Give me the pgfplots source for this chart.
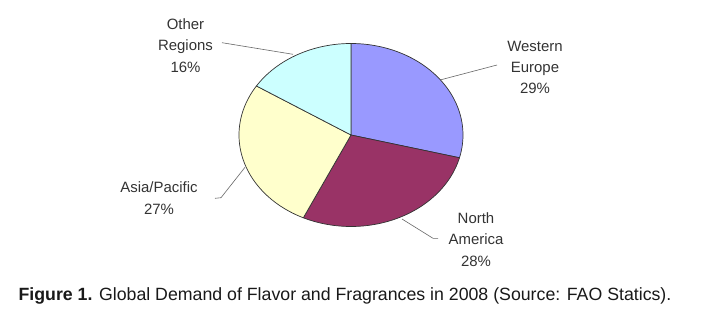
\documentclass[border=0pt]{standalone}
\usepackage{pgfplots}
\pgfplotsset{compat=1.18}
\usepackage{fontspec}
\setmainfont{Liberation Sans}
\definecolor{cWE}{HTML}{9999FF}
\definecolor{cNA}{HTML}{993366}
\definecolor{cAP}{HTML}{FFFFCC}
\definecolor{cOR}{HTML}{CCFFFF}
\definecolor{lbl}{HTML}{333333}
% data (percent)
\def\pWE{29}
\def\pNA{28}
\def\pAP{27}
\def\pOR{16}
\begin{document}
\begin{tikzpicture}
\pgfmathsetmacro{\azero}{90}
\pgfmathsetmacro{\aone}{\azero-3.6*\pWE}
\pgfmathsetmacro{\atwo}{\aone-3.6*\pNA}
\pgfmathsetmacro{\athree}{\atwo-3.6*\pAP}
\pgfmathsetmacro{\afour}{\athree-3.6*\pOR}
\begin{axis}[x=1bp, y=1bp, xmin=0, xmax=709, ymin=0, ymax=316,
  hide axis, clip=false, anchor=origin, at={(0,0)}, scale only axis]
\path (axis cs:0,0) rectangle (axis cs:709,316);
\addplot[fill=cWE, draw=black!80, line width=0.7pt, domain=\aone:\azero, samples=80]
  ({351+112*cos(x)},{181+91.5*sin(x)}) -- (axis cs:351,181) -- cycle;
\addplot[fill=cNA, draw=black!80, line width=0.7pt, domain=\atwo:\aone, samples=80]
  ({351+112*cos(x)},{181+91.5*sin(x)}) -- (axis cs:351,181) -- cycle;
\addplot[fill=cAP, draw=black!80, line width=0.7pt, domain=\athree:\atwo, samples=80]
  ({351+112*cos(x)},{181+91.5*sin(x)}) -- (axis cs:351,181) -- cycle;
\addplot[fill=cOR, draw=black!80, line width=0.7pt, domain=\afour:\athree, samples=80]
  ({351+112*cos(x)},{181+91.5*sin(x)}) -- (axis cs:351,181) -- cycle;
% leader lines
\addplot[gray!80!black, line width=0.6pt] coordinates {(222,273.3) (293,261.7)};
\addplot[gray!80!black, line width=0.6pt] coordinates {(497,251) (440,236)};
\addplot[gray!80!black, line width=0.6pt] coordinates {(215,117.7) (221,118.3) (245,148.7)};
\addplot[gray!80!black, line width=0.6pt] coordinates {(438,77.7) (433,77.7) (402,97)};
% labels
\tikzset{pl/.style={align=center, text=lbl, font=\fontsize{15}{21.5}\selectfont, inner sep=0pt}}
\node[pl] at (axis cs:185.5,270.5) {Other\\Regions\\\pOR\%};
\node[pl] at (axis cs:535,248.5) {Western\\Europe\\\pWE\%};
\node[pl] at (axis cs:159,118) {Asia/Pacific\\\pAP\%};
\node[pl] at (axis cs:476,76.5) {North\\America\\\pNA\%};
\node[anchor=base, inner sep=0pt, font=\fontsize{17.8}{20}\selectfont, text=black!90] at (axis cs:345,16)
  {\textbf{Figure 1.} Global Demand of Flavor and Fragrances in 2008 (Source: FAO Statics).};
\end{axis}
\end{tikzpicture}
\end{document}
